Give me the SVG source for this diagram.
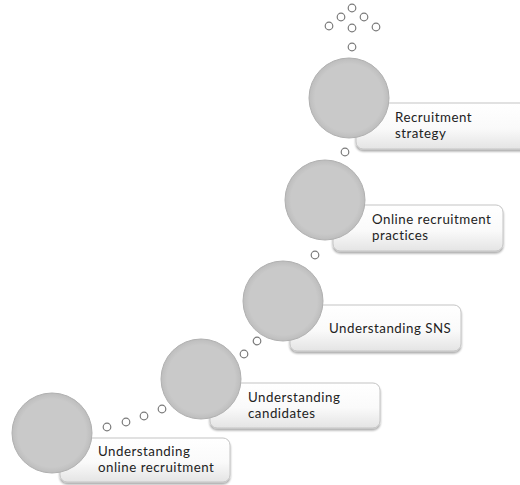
<svg xmlns="http://www.w3.org/2000/svg" width="520" height="485" viewBox="0 0 520 485">
<defs>
<linearGradient id="boxg" x1="0" y1="0" x2="0" y2="1">
<stop offset="0" stop-color="#ffffff"/>
<stop offset="0.55" stop-color="#fafafa"/>
<stop offset="1" stop-color="#e4e4e4"/>
</linearGradient>
<radialGradient id="circg" cx="0.5" cy="0.5" r="0.5">
<stop offset="0.85" stop-color="#c9c9c9"/>
<stop offset="1" stop-color="#bdbdbd"/>
</radialGradient>
<filter id="sh" x="-10%" y="-10%" width="120%" height="130%">
<feGaussianBlur in="SourceAlpha" stdDeviation="1.2"/>
<feOffset dx="0" dy="1.5" result="b"/>
<feComponentTransfer><feFuncA type="linear" slope="0.35"/></feComponentTransfer>
<feMerge><feMergeNode/><feMergeNode in="SourceGraphic"/></feMerge>
</filter>
</defs>
<style>
.box{fill:url(#boxg);stroke:#c4c4c4;stroke-width:1;filter:url(#sh)}
.big{fill:url(#circg);stroke:#b0b0b0;stroke-width:1}
.dot{fill:#ffffff;stroke:#7a7a7a;stroke-width:1.2}
.lbl{font-family:Lato,"Open Sans","Liberation Sans",sans-serif;font-size:13.3px;letter-spacing:0.5px;fill:#222}
</style>
<g id="connectors">
<circle class="dot" cx="352" cy="8" r="3.8"/>
<circle class="dot" cx="341" cy="17" r="3.8"/>
<circle class="dot" cx="364" cy="17" r="3.8"/>
<circle class="dot" cx="329" cy="26" r="3.8"/>
<circle class="dot" cx="352" cy="28" r="3.8"/>
<circle class="dot" cx="376" cy="27" r="3.8"/>
<circle class="dot" cx="352" cy="47" r="3.8"/>
<circle class="dot" cx="345" cy="152" r="3.8"/>
<circle class="dot" cx="315" cy="255" r="3.8"/>
<circle class="dot" cx="257" cy="341" r="3.8"/>
<circle class="dot" cx="244" cy="354" r="3.8"/>
<circle class="dot" cx="107" cy="427" r="3.8"/>
<circle class="dot" cx="126" cy="422" r="3.8"/>
<circle class="dot" cx="144" cy="416" r="3.8"/>
<circle class="dot" cx="162" cy="409" r="3.8"/>
</g>
<g id="node1">
<rect class="box" x="356" y="103" width="172" height="46" rx="7"/>
<circle class="big" cx="349" cy="98" r="40"/>
<text class="lbl" x="395" y="122">Recruitment<tspan x="395" dy="16">strategy</tspan></text>
</g>
<g id="node2">
<rect class="box" x="333" y="205" width="170" height="46" rx="7"/>
<circle class="big" cx="325" cy="200" r="40"/>
<text class="lbl" x="372" y="224">Online recruitment<tspan x="372" dy="16">practices</tspan></text>
</g>
<g id="node3">
<rect class="box" x="290" y="305" width="171" height="46" rx="7"/>
<circle class="big" cx="283" cy="301" r="40"/>
<text class="lbl" x="329" y="333">Understanding SNS</text>
</g>
<g id="node4">
<rect class="box" x="210" y="383" width="170" height="45" rx="7"/>
<circle class="big" cx="201" cy="379" r="40"/>
<text class="lbl" x="248" y="402">Understanding<tspan x="248" dy="16">candidates</tspan></text>
</g>
<g id="node5">
<rect class="box" x="60" y="438" width="170" height="44" rx="7"/>
<circle class="big" cx="52" cy="433" r="40"/>
<text class="lbl" x="98" y="456">Understanding<tspan x="98" dy="16">online recruitment</tspan></text>
</g>
</svg>
